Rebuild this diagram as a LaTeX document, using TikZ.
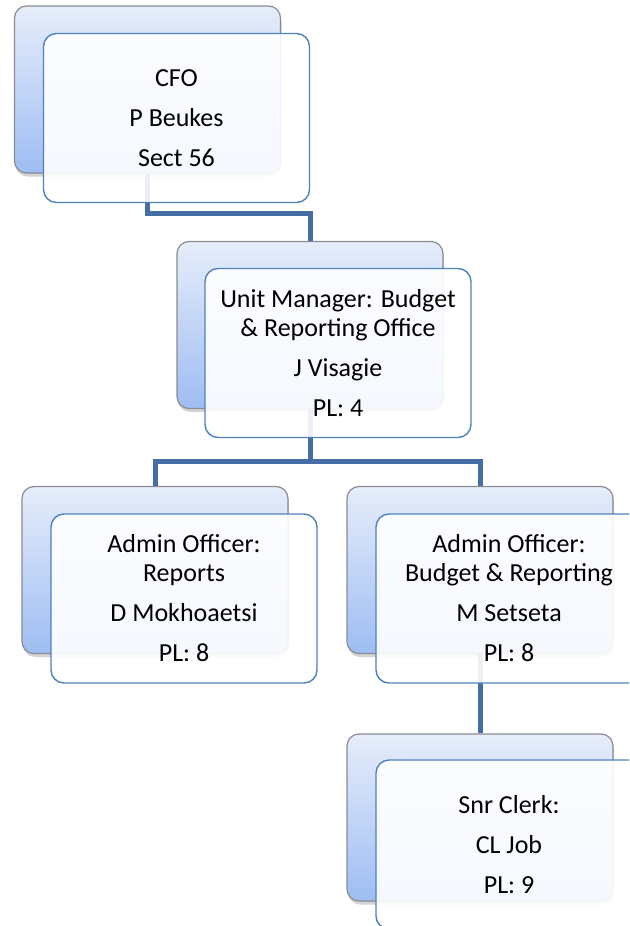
\documentclass[tikz,border=0pt]{standalone}
\usepackage{fontspec}
\setmainfont{Carlito}
\usetikzlibrary{calc}
\usetikzlibrary{shadows}

\definecolor{linkblue}{RGB}{70,110,166}
\definecolor{frameblue}{RGB}{79,129,189}
\definecolor{backtop}{RGB}{230,237,250}
\definecolor{backbottom}{RGB}{158,189,243}
\definecolor{backline}{RGB}{138,140,144}

\begin{document}
\begin{tikzpicture}[x=1pt, y=-1pt,
	backbox/.style={rectangle, rounded corners=12pt, minimum width=266pt, minimum height=167pt,
		draw=backline, line width=1.2pt, top color=backtop, bottom color=backbottom,
		drop shadow={shadow xshift=1pt, shadow yshift=-3.5pt, opacity=0.35}},
	frontbox/.style={rectangle, rounded corners=13pt, minimum width=266pt, minimum height=169pt,
		draw=frameblue, line width=1.4pt, fill=white, fill opacity=0.9, text opacity=1,
		align=center, inner sep=0pt, font=\fontsize{26}{29}\selectfont},
	link/.style={draw=linkblue, line width=5pt}]
	\useasboundingbox (0,0) rectangle (629,926);
	\clip (0,0) rectangle (629,926);

	% back cards
	\node[backbox] (cfo) at (147.5,89.5) {};
	\node[backbox] (um) at (310,325) {};
	\node[backbox] (reports) at (155,570) {};
	\node[backbox] (budget) at (480,570) {};
	\node[backbox] (clerk) at (480,817.5) {};

	% reporting lines
	\draw[link] (cfo.south) |- ([yshift=27pt]um.north) -- (um.north);
	\draw[link] (um.south) |- ([yshift=24pt]reports.north) -- (reports.north);
	\draw[link] (um.south) |- ([yshift=24pt]budget.north) -- (budget.north);
	\draw[link] (budget.south) -- (clerk.north);

	% front cards
	\node[frontbox] (cfo-f) at ($(cfo)+(29,28.5)$) {CFO\\[11pt]P Beukes\\[11pt]Sect 56};
	\node[frontbox] (um-f) at ($(um)+(28,28)$) {Unit Manager: Budget\\\& Reporting Office\\[11pt]J Visagie\\[11pt]PL: 4};
	\node[frontbox] (reports-f) at ($(reports)+(29,28.5)$) {Admin Officer:\\Reports\\[11pt]D Mokhoaetsi\\[11pt]PL: 8};
	\node[frontbox] (budget-f) at ($(budget)+(29,28.5)$) {Admin Officer:\\Budget \& Reporting\\[11pt]M Setseta\\[11pt]PL: 8};
	\node[frontbox] (clerk-f) at ($(clerk)+(29,27)$) {Snr Clerk:\\[11pt]CL Job\\[11pt]PL: 9};
\end{tikzpicture}
\end{document}
